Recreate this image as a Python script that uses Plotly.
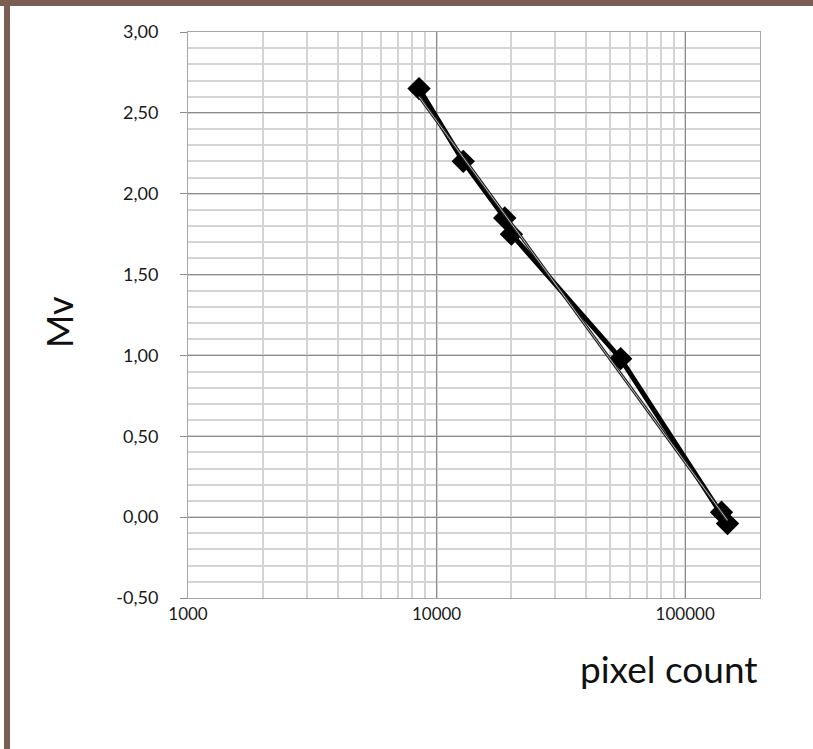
import plotly.graph_objects as go

# Data
pixel_count = [8500, 12800, 18800, 20000, 55000, 140000, 148000]
mv_values = [2.65, 2.20, 1.85, 1.75, 0.98, 0.03, -0.04]

# thin trend line (read endpoints)
trend_x = [8500, 148000]
trend_y = [2.60, -0.02]

y_tick_vals = [-0.5, 0.0, 0.5, 1.0, 1.5, 2.0, 2.5, 3.0]
y_tick_text = ["-0,50", "0,00", "0,50", "1,00", "1,50", "2,00", "2,50", "3,00"]
x_tick_vals = [1000, 10000, 100000]
x_tick_text = ["1000", "10000", "100000"]

W, H = 813, 749
L, R, T, B = 188, 53, 32, 151
pw, ph = W - L - R, H - T - B

fig = go.Figure()

# thick data line with diamond markers
fig.add_trace(go.Scatter(
    x=pixel_count, y=mv_values, mode="lines+markers",
    line=dict(color="black", width=5),
    marker=dict(symbol="diamond", size=18, color="black"),
    showlegend=False, hoverinfo="skip"))

# thin trend line, outlined look
fig.add_trace(go.Scatter(
    x=trend_x, y=trend_y, mode="lines",
    line=dict(color="#222222", width=3), showlegend=False, hoverinfo="skip"))
fig.add_trace(go.Scatter(
    x=trend_x, y=trend_y, mode="lines",
    line=dict(color="#bbbbbb", width=1), showlegend=False, hoverinfo="skip"))

font_family = "Lato, 'Open Sans', sans-serif"

fig.update_layout(
    width=W, height=H,
    margin=dict(l=L, r=R, t=T, b=B, pad=0),
    paper_bgcolor="white", plot_bgcolor="white",
    font=dict(family=font_family, color="#1a1a1a", size=17),
    xaxis=dict(
        type="log", range=[3, 5.30103],
        tickvals=x_tick_vals, ticktext=x_tick_text,
        showgrid=True, gridcolor="#8c8c8c", gridwidth=1,
        minor=dict(dtick="D1", showgrid=True, gridcolor="#d4d4d4", gridwidth=1.5, ticks=""),
        showline=True, linecolor="#a6a6a6", linewidth=1, mirror=True,
        ticks="", ticklen=0, tickfont=dict(size=17), ticklabelstandoff=1,
        zeroline=False,
    ),
    yaxis=dict(
        range=[-0.5, 3.0], tickvals=y_tick_vals, ticktext=y_tick_text,
        showgrid=True, gridcolor="#8c8c8c", gridwidth=1,
        minor=dict(dtick=0.1, showgrid=True, gridcolor="#d4d4d4", gridwidth=1.5, ticks=""),
        showline=True, linecolor="#a6a6a6", linewidth=1, mirror=True,
        ticks="outside", ticklen=7, tickcolor="#8c8c8c",
        tickfont=dict(size=18), ticklabelstandoff=18, zeroline=False,
    ),
)

# axis titles as annotations
fig.add_annotation(
    text="pixel count", xref="paper", yref="paper",
    x=1.0, y=-(668 - 598) / ph, xanchor="right", yanchor="middle",
    showarrow=False, font=dict(size=37, family=font_family, color="#111111"))
fig.add_annotation(
    text="Mv", xref="paper", yref="paper",
    x=(59 - L) / pw, y=(598 - 322) / ph, xanchor="center", yanchor="middle",
    textangle=-90, showarrow=False, font=dict(size=36, family=font_family, color="#111111"))

# brown frame (left and top edges)
brown = "#7a5d53"
fig.add_shape(type="rect", xref="paper", yref="paper", layer="above",
              x0=(4 - L) / pw, x1=(10 - L) / pw,
              y0=-(B) / ph, y1=(H - B) / ph,
              fillcolor=brown, line=dict(width=0))
fig.add_shape(type="rect", xref="paper", yref="paper", layer="above",
              x0=(0 - L) / pw, x1=(W - L) / pw,
              y0=(H - B - 6) / ph, y1=(H - B) / ph,
              fillcolor=brown, line=dict(width=0))

fig.write_html("out.html", config={"displayModeBar": False},
               post_script="document.body.style.margin='0';document.body.style.overflow='hidden';")
